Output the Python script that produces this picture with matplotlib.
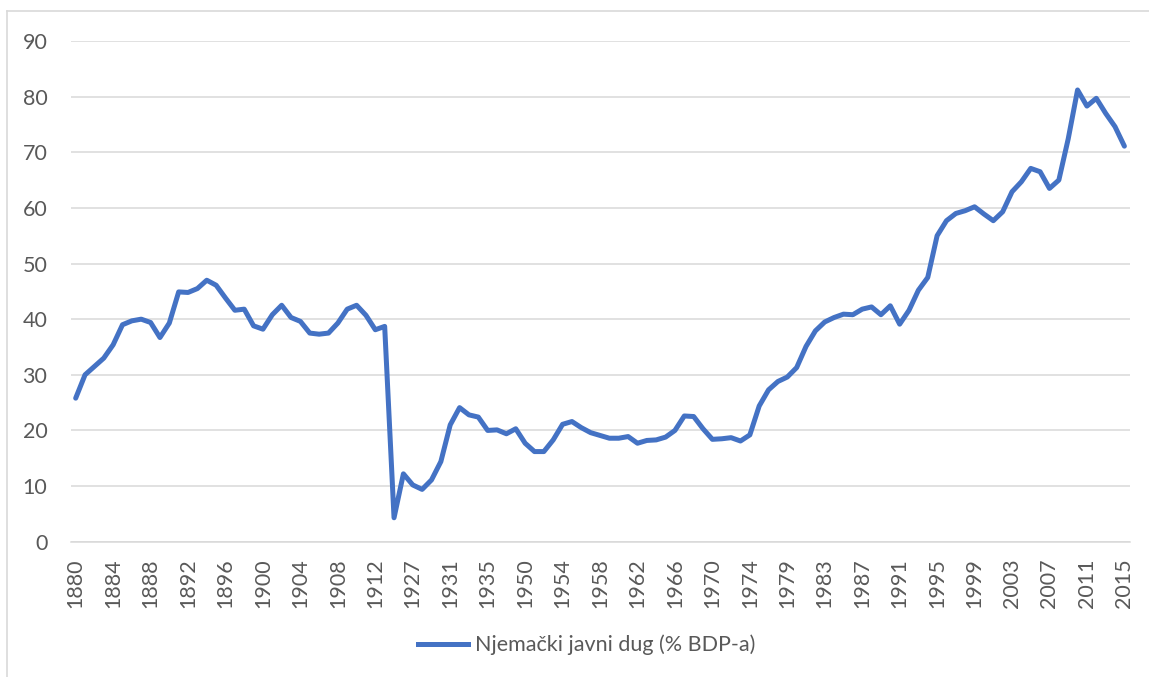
import matplotlib.pyplot as plt
from matplotlib.lines import Line2D

# years in the series (gaps: 1914-1924, 1939-1949, 1978)
years = (list(range(1880, 1914)) + list(range(1925, 1939))
         + list(range(1950, 1978)) + list(range(1979, 2016)))

debt_pre_ww1 = [25.8, 30.0, 31.5, 33.0, 35.4, 39.0, 39.7, 40.0, 39.4, 36.7,
                39.3, 44.9, 44.8, 45.5, 47.0, 46.1, 43.8, 41.6, 41.8, 38.8,
                38.2, 40.8, 42.5, 40.3, 39.6, 37.5, 37.3, 37.5, 39.3, 41.8,
                42.5, 40.7, 38.1, 38.7]
debt_interwar = [4.3, 12.2, 10.2, 9.4, 11.1, 14.4, 21.0, 24.1, 22.8, 22.4,
                 20.0, 20.1, 19.4, 20.3]
debt_postwar = [17.7, 16.2, 16.2, 18.3, 21.1, 21.6, 20.5, 19.6, 19.1, 18.6,
                18.6, 18.9, 17.7, 18.2, 18.3, 18.8, 20.0, 22.6, 22.5, 20.3,
                18.4, 18.5, 18.7, 18.1, 19.2, 24.4, 27.3, 28.8]
debt_recent = [29.6, 31.3, 35.1, 37.9, 39.5, 40.3, 40.9, 40.8, 41.8, 42.2,
               40.8, 42.4, 39.1, 41.6, 45.2, 47.5, 55.0, 57.7, 59.0, 59.5,
               60.2, 58.9, 57.7, 59.3, 62.9, 64.7, 67.1, 66.5, 63.5, 65.0,
               72.4, 81.2, 78.3, 79.7, 77.0, 74.6, 71.1]
debt = debt_pre_ww1 + debt_interwar + debt_postwar + debt_recent

series_label = "Njemački javni dug (% BDP-a)"
y_ticks = [0, 10, 20, 30, 40, 50, 60, 70, 80, 90]
label_step = 4

line_color = "#4472C4"
grid_color = "#D9D9D9"
text_color = "#595959"
font_size = 15.5

plt.rcParams["font.family"] = ["Lato", "DejaVu Sans"]

W, H = 1149, 677
fig = plt.figure(figsize=(W / 100, H / 100), dpi=100)
ax = fig.add_axes([71 / W, (H - 541.7) / H, (1130 - 71) / W, (541.7 - 41) / H])

x = list(range(len(years)))
ax.plot(x, debt, color=line_color, lw=3.6,
        solid_joinstyle="round", solid_capstyle="round")

ax.set_xlim(-0.5, len(years) - 0.4)
ax.set_ylim(0, 90)
ax.set_yticks(y_ticks)
ax.yaxis.grid(True, color=grid_color, lw=1.1)
ax.set_axisbelow(True)

ticks = x[::label_step]
ax.set_xticks(ticks)
ax.set_xticklabels([str(years[i]) for i in ticks], rotation=90, va="top")

ax.tick_params(axis="both", length=0, labelsize=font_size, colors=text_color)
ax.tick_params(axis="x", pad=12)
ax.tick_params(axis="y", pad=17)

for side in ["top", "right", "left"]:
    ax.spines[side].set_visible(False)
ax.spines["bottom"].set_color(grid_color)
ax.spines["bottom"].set_linewidth(1.1)

# chart area border (cropped at right and bottom)
fig.add_artist(Line2D([7 / W, 1], [1 - 11 / H, 1 - 11 / H],
                      color=grid_color, lw=1.2, transform=fig.transFigure))
fig.add_artist(Line2D([7 / W, 7 / W], [0, 1 - 11 / H],
                      color=grid_color, lw=1.2, transform=fig.transFigure))

handle = Line2D([], [], color=line_color, lw=3.6)
fig.legend([handle], [series_label], loc="center", frameon=False,
           bbox_to_anchor=(587 / W, 1 - 645 / H), fontsize=font_size,
           labelcolor=text_color, handlelength=2.3, handletextpad=0.35)

fig.savefig("out.png", dpi=100)
